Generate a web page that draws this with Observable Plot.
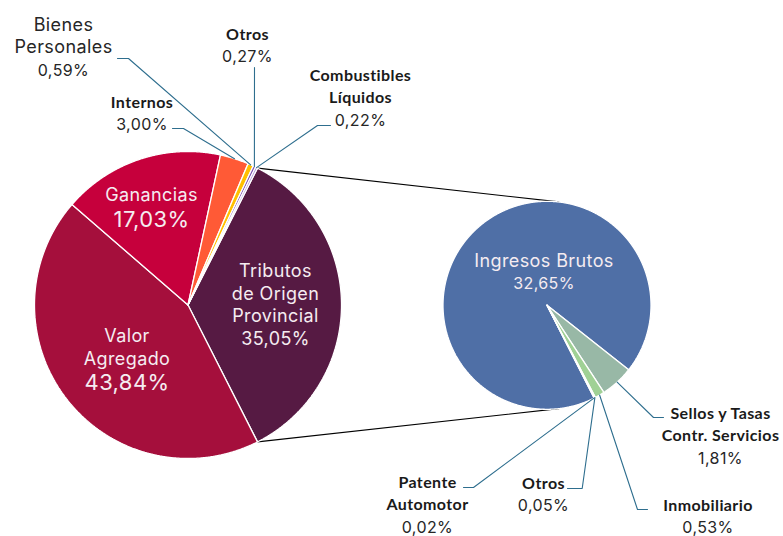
<!DOCTYPE html>
<html>
<head>
<meta charset="utf-8">
<script src="https://cdn.jsdelivr.net/npm/d3@7"></script>
<script src="https://cdn.jsdelivr.net/npm/@observablehq/plot@0.6"></script>
<style>
  html, body { margin: 0; padding: 0; background: #ffffff; }
  #chart svg { display: block; }
  #chart svg text { letter-spacing: 0.4px; }
</style>
</head>
<body>
<div id="chart"></div>
<script>
// ---------- data ----------
const mainNames = ["Tributos\nde Origen\nProvincial", "Valor\nAgregado", "Ganancias", "Internos", "Bienes\nPersonales", "Otros", "Combustibles\nLíquidos"];
const mainValues = [35.05, 43.84, 17.03, 3.00, 0.59, 0.27, 0.22];
const mainColors = ["#561A43", "#A50F3C", "#C6003C", "#FF5A36", "#FFC000", "#7B4FB0", "#A98BD6"];

const subNames = ["Ingresos Brutos", "Sellos y Tasas\nContr. Servicios", "Inmobiliario", "Otros", "Patente\nAutomotor"];
const subValues = [32.65, 1.81, 0.53, 0.05, 0.02];
const subColors = ["#4F6FA6", "#98B8A6", "#A0D195", "#6E9E6A", "#C3D69B"];

// ---------- layout ----------
const W = 783, H = 536;
const main = {cx: 187.5, cy: 304.5, r: 153.5};
const sub = {cx: 546.5, cy: 304.8, r: 104};
const mainStart = 90 - mainValues[0] * 3.6 / 2;   // combined slice centred toward the secondary pie
const subStart = 153.05;                           // rotation of the secondary pie
const connectorAngles = [6.5, 173.5];              // where connectors meet the secondary pie

// label anchors: [x, first baseline, kind]  kind: "in" inside, "out" bold outside, "light" regular outside
const mainLabelPos = [[275, 276.7, "in"], [126.5, 341.7, "in"], [151, 200.7, "in"], [141.5, 107.3, "out"], [63, 30, "light"], [247, 39.3, "out"], [360, 80, "out"]];
const subLabelPos = [[543.5, 266, "in"], [720, 418.3, "out"], [707.5, 510, "out"], [543, 488.3, "out"], [427, 487.3, "out"]];
const mainPctSize = [18, 22, 22, 16, 16, 16, 16];
const subPctSize = [16, 16, 16, 16, 16];
// leader elbows [elbowX, elbowY, endX] (null = inside label)
const mainLeaders = [null, null, null, [183, 128, 172], [128, 58, 117], [254, 67, 254], [317, 125, 330]];
const subLeaders = [null, [653, 417, 663], [637, 509, 647], [581.7, 488, 567], [473, 487, 463]];

// ---------- geometry helpers ----------
const rad = a => a * Math.PI / 180;
const pt = (c, a, r = c.r) => ({x: c.cx + r * Math.sin(rad(a)), y: c.cy - r * Math.cos(rad(a))});

function slices(values, start, c) {
  const total = d3.sum(values);
  let a = start;
  return values.map((v, i) => {
    const a0 = a, a1 = a + v / total * 360;
    a = a1;
    const pts = [{x: c.cx, y: c.cy}];
    const n = Math.max(2, Math.ceil((a1 - a0) / 0.25));
    for (let k = 0; k <= n; k++) pts.push(pt(c, a0 + (a1 - a0) * k / n));
    pts.push({x: c.cx, y: c.cy});
    return {i, a0, a1, mid: (a0 + a1) / 2, pts};
  });
}

const mainSlices = slices(mainValues, mainStart, main);
const subSlices = slices(subValues, subStart, sub);

const fmt = v => v.toFixed(2).replace(".", ",") + "%";

// text rows
function labelRows(names, values, pos, pctSizes) {
  const rows = [];
  names.forEach((name, i) => {
    const [x, y0, kind] = pos[i];
    const lines = name.split("\n");
    let y = y0;
    lines.forEach((t, k) => {
      if (k > 0) y += 22.6;
      rows.push({x, y, text: t, size: kind === "out" ? 16 : 18, kind, role: "name"});
    });
    y += pctSizes[i] > 18 ? 25.5 : 22.6;
    rows.push({x, y, text: fmt(values[i]), size: pctSizes[i], kind, role: "pct"});
  });
  return rows;
}
const rows = [...labelRows(mainNames, mainValues, mainLabelPos, mainPctSize), ...labelRows(subNames, subValues, subLabelPos, subPctSize)];

// leader lines
function leaders(sl, c, spec) {
  const out = [];
  sl.forEach((s, i) => {
    const L = spec[i];
    if (!L) return;
    const p0 = pt(c, s.mid);
    out.push([{x: p0.x, y: p0.y}, {x: L[0], y: L[1]}, {x: L[2], y: L[1]}]);
  });
  return out;
}
const leaderLines = [...leaders(mainSlices, main, mainLeaders), ...leaders(subSlices, sub, subLeaders)];

// connectors between pies
const tribEnds = [mainSlices[0].a0, mainSlices[0].a1];
const connectors = tribEnds.map((a, k) => [pt(main, a), pt(sub, connectorAngles[k])]);

const marks = [];
connectors.forEach(seg => marks.push(Plot.line(seg, {x: "x", y: "y", stroke: "#000", strokeWidth: 1.2})));
mainSlices.forEach(s => marks.push(Plot.line(s.pts, {x: "x", y: "y", fill: mainColors[s.i], stroke: "#ffffff", strokeWidth: 1.3, strokeLinejoin: "miter"})));
subSlices.forEach(s => marks.push(Plot.line(s.pts, {x: "x", y: "y", fill: subColors[s.i], stroke: "#ffffff", strokeWidth: 1.3, strokeLinejoin: "miter"})));
leaderLines.forEach(l => marks.push(Plot.line(l, {x: "x", y: "y", stroke: "#2E6E8E", strokeWidth: 1.1})));

marks.push(Plot.text(rows.filter(d => d.kind === "in"), {x: "x", y: "y", text: "text", fontSize: "size", lineAnchor: "bottom", textAnchor: "middle", fill: "#F5ECF1", fontFamily: "Inter, 'Noto Sans', sans-serif", fontWeight: 400}));
marks.push(Plot.text(rows.filter(d => d.kind === "out" && d.role === "name"), {x: "x", y: "y", text: "text", fontSize: "size", lineAnchor: "bottom", textAnchor: "middle", fill: "#1a1a1a", fontFamily: "Lato, 'Open Sans', sans-serif", fontWeight: 700}));
marks.push(Plot.text(rows.filter(d => d.kind === "light" || (d.kind === "out" && d.role === "pct")), {x: "x", y: "y", text: "text", fontSize: "size", lineAnchor: "bottom", textAnchor: "middle", fill: "#262626", fontFamily: "Inter, 'Noto Sans', sans-serif", fontWeight: 400}));

const chart = Plot.plot({
  width: W, height: H,
  margin: 0,
  x: {type: "linear", domain: [0, W], range: [0, W], axis: null},
  y: {type: "linear", domain: [0, H], range: [0, H], axis: null},
  style: {background: "#ffffff", overflow: "visible"},
  marks
});
document.getElementById("chart").appendChild(chart);
</script>
</body>
</html>
